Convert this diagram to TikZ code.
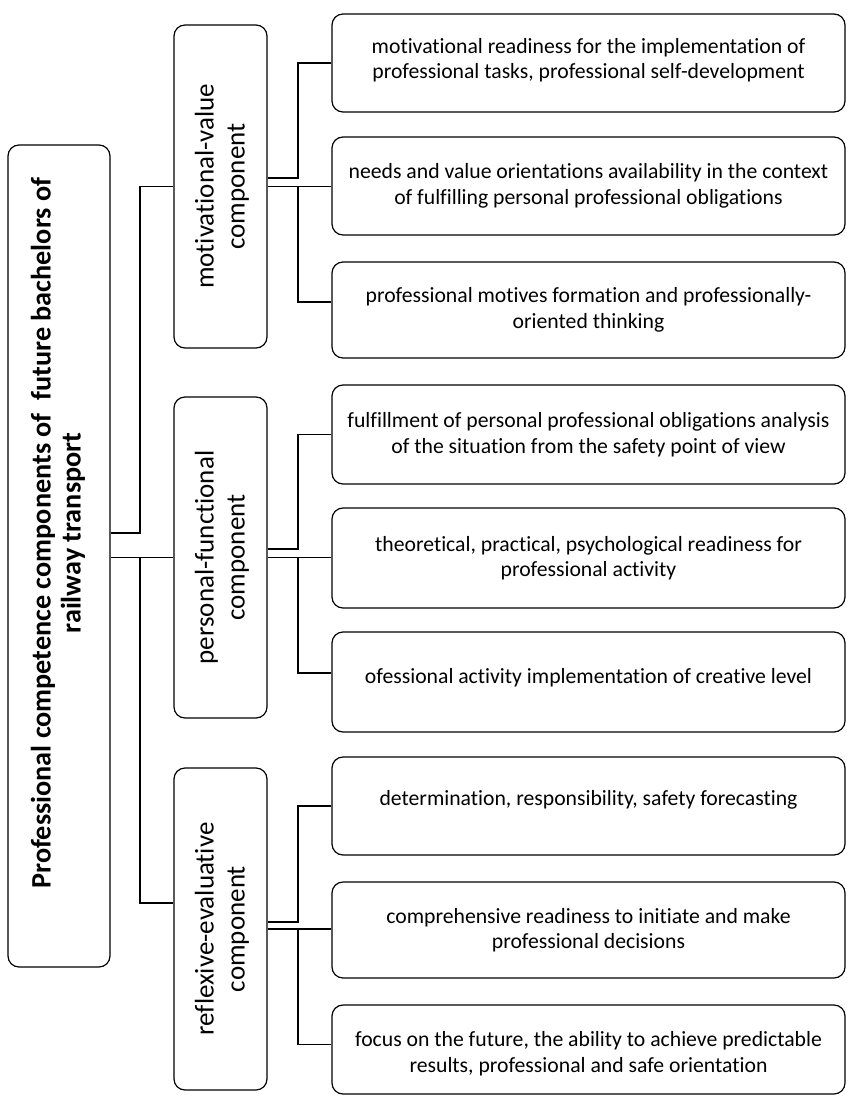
\documentclass[tikz,border=0pt]{standalone}
\usepackage{fontspec}
\setmainfont[Ligatures=NoCommon]{Carlito}
\begin{document}
\begin{tikzpicture}[x=1pt,y=-1pt,
  box/.style={draw=black, line width=1.2pt, rounded corners=11pt, inner sep=0pt},
  rbox/.style={box, minimum width=513pt},
  rtext/.style={align=center, font=\fontsize{21.7}{25.5}\selectfont, inner sep=0pt},
  mtext/.style={rotate=90, align=center, font=\fontsize{27}{31}\selectfont, inner sep=0pt},
  ttext/.style={rotate=90, align=center, font=\fontsize{28.2}{30}\selectfont\bfseries, inner sep=0pt},
  conn/.style={draw=black, line width=1.4pt}]
\useasboundingbox (0,0) rectangle (848,1097);
% main node
\node[box, minimum width=102pt, minimum height=822pt] (main) at (59,556) {};
\node[ttext] (maint) at (58,533) {Professional competence components of \ future bachelors of\\railway transport};
% middle nodes
\node[box, minimum width=93pt, minimum height=323pt] (mv) at (220.5,186.5) {};
\node[mtext] (mvt) at (222,186.5) {motivational-value\\component};
\node[box, minimum width=93pt, minimum height=321pt] (pf) at (220.5,557.5) {};
\node[mtext] (pft) at (222,557.5) {personal-functional\\component};
\node[box, minimum width=93pt, minimum height=322pt] (re) at (220.5,929) {};
\node[mtext] (ret) at (222,929) {reflexive-evaluative\\component};
% right boxes
\node[rbox, minimum height=98pt] (r1) at (588.5,63) {};
\node[rtext] (t1) at ([yshift=3pt]r1.center) {motivational readiness for the implementation of\\professional tasks, professional self-development};
\node[rbox, minimum height=98pt] (r2) at (588.5,186) {};
\node[rtext] (t2) at (r2) {needs and value orientations availability in the context\\of fulfilling personal professional obligations};
\node[rbox, minimum height=96pt] (r3) at (588.5,310) {};
\node[rtext] (t3) at (r3) {professional motives formation and professionally-\\oriented thinking};
\node[rbox, minimum height=99pt] (r4) at (588.5,434.5) {};
\node[rtext] (t4) at (r4) {fulfillment of personal professional obligations analysis\\of the situation from the safety point of view};
\node[rbox, minimum height=100pt] (r5) at (588.5,558) {};
\node[rtext] (t5) at (r5) {theoretical, practical, psychological readiness for\\professional activity};
\node[rbox, minimum height=100pt] (r6) at (588.5,682) {};
\node[rtext] (t6) at ([yshift=4pt]r6.center) {ofessional activity implementation of creative level};
\node[rbox, minimum height=98pt] (r7) at (588.5,806) {};
\node[rtext] (t7) at ([yshift=6pt]r7.center) {determination, responsibility, safety forecasting};
\node[rbox, minimum height=96pt] (r8) at (588.5,930) {};
\node[rtext] (t8) at (r8) {comprehensive readiness to initiate and make\\professional decisions};
\node[rbox, minimum height=89pt] (r9) at (588.5,1049.5) {};
\node[rtext] (t9) at ([yshift=-4pt]r9.center) {focus on the future, the ability to achieve predictable\\results, professional and safe orientation};
% connectors from main
\coordinate (a1) at (140,533);
\coordinate (a2) at (140,557.5);
\draw[conn] (main.east |- a1) -- (a1) |- (mv.west);
\draw[conn] (main.east |- pf.west) -- (pf.west);
\draw[conn] (a2) |- ([yshift=26pt]re.west);
% connectors motivational
\coordinate (b1) at (298,178);
\coordinate (b2) at (298,186.5);
\draw[conn] (mv.east |- b1) -- (b1) |- (r1.west);
\draw[conn] (mv.east) -- (r2.west |- mv.east);
\draw[conn] (b2) |- ([yshift=8pt]r3.west);
% connectors personal
\coordinate (c1) at (298,549);
\coordinate (c2) at (298,557.5);
\draw[conn] (pf.east |- c1) -- (c1) |- (r4.west);
\draw[conn] (pf.east) -- (r5.west |- pf.east);
\draw[conn] (c2) |- ([yshift=9pt]r6.west);
% connectors reflexive
\coordinate (d1) at (298,922);
\coordinate (d2) at (298,929);
\draw[conn] (re.east |- d1) -- (d1) |- (r7.west);
\draw[conn] (re.east) -- (r8.west |- re.east);
\draw[conn] (d2) |- ([yshift=5pt]r9.west);
\end{tikzpicture}
\end{document}
